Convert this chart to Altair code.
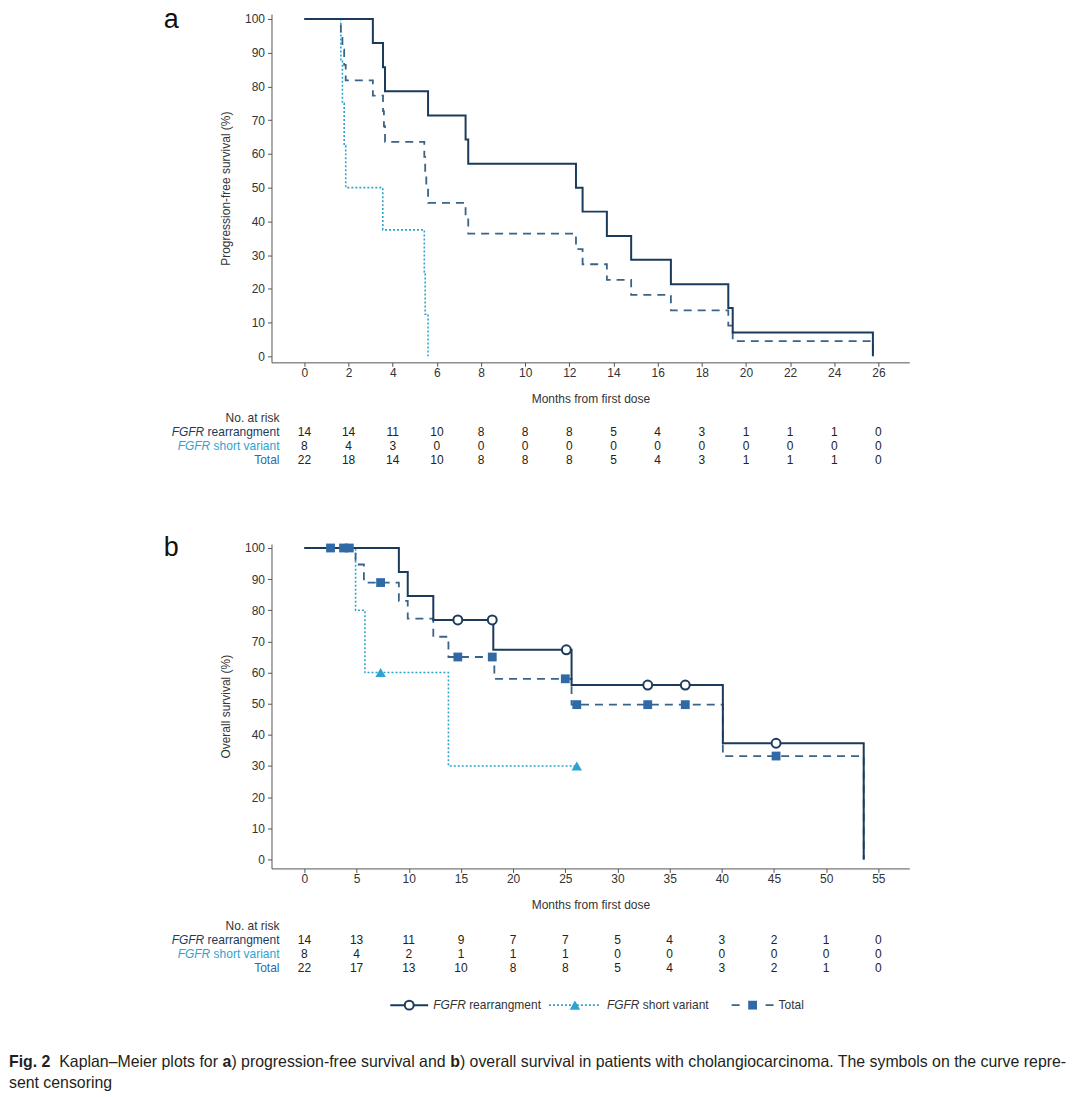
import altair as alt
import pandas as pd

# ---------------- data ----------------
# Panel a: progression-free survival (step curves: event time, survival after event)
PFS_REARR_T = [0, 3.1, 3.56, 3.65, 5.6, 7.3, 7.42, 12.3, 12.6, 13.7, 14.8, 16.6, 19.2, 19.4, 25.75]
PFS_REARR_S = [100, 92.9, 85.7, 78.6, 71.4, 64.3, 57.1, 50.0, 42.9, 35.7, 28.6, 21.4, 14.3, 7.1, 0]
PFS_SHORT_T = [0, 1.65, 1.72, 1.8, 1.87, 3.55, 5.43, 5.47, 5.6]
PFS_SHORT_S = [100, 87.5, 75.0, 62.5, 50.0, 37.5, 25.0, 12.5, 0]
PFS_TOTAL_T = [0, 1.65, 1.72, 1.8, 1.87, 3.1, 3.56, 3.6, 3.65, 5.43, 5.47, 5.52, 5.6,
               7.3, 7.42, 12.3, 12.6, 13.7, 14.8, 16.6, 19.2, 19.4, 25.75]
PFS_TOTAL_S = [100, 95.5, 90.9, 86.4, 81.8, 77.3, 72.7, 68.2, 63.6, 59.1, 54.5, 50.0, 45.5,
               40.9, 36.4, 31.8, 27.3, 22.7, 18.2, 13.6, 9.1, 4.5, 0]

PFS_TICKS = [0, 2, 4, 6, 8, 10, 12, 14, 16, 18, 20, 22, 24, 26]
PFS_RISK_REARR = [14, 14, 11, 10, 8, 8, 8, 5, 4, 3, 1, 1, 1, 0]
PFS_RISK_SHORT = [8, 4, 3, 0, 0, 0, 0, 0, 0, 0, 0, 0, 0, 0]
PFS_RISK_TOTAL = [22, 18, 14, 10, 8, 8, 8, 5, 4, 3, 1, 1, 1, 0]

# Panel b: overall survival
OS_REARR_T = [0, 9.05, 9.9, 12.35, 18.1, 25.6, 40.1, 53.6]
OS_REARR_S = [100, 92.3, 84.6, 76.9, 67.3, 56.0, 37.3, 0]
OS_SHORT_T = [0, 4.9, 5.8, 13.8, 26.1]
OS_SHORT_S = [100, 80.0, 60.0, 30.0, 30.0]
OS_TOTAL_T = [0, 4.9, 5.7, 9.05, 9.9, 12.35, 13.8, 18.2, 25.6, 40.1, 53.6]
OS_TOTAL_S = [100, 94.7, 88.9, 83.0, 77.3, 71.5, 65.0, 58.0, 49.7, 33.2, 0]

# censoring marks
OS_REARR_CENS_T = [14.7, 18.0, 25.1, 32.9, 36.5, 45.2]
OS_REARR_CENS_S = [76.9, 76.9, 67.3, 56.0, 56.0, 37.3]
OS_SHORT_CENS_T = [7.3, 26.1]
OS_SHORT_CENS_S = [60.0, 30.0]
OS_TOTAL_CENS_T = [2.5, 3.75, 4.3, 7.3, 14.7, 18.0, 25.0, 26.1, 32.9, 36.5, 45.2]
OS_TOTAL_CENS_S = [100, 100, 100, 88.9, 65.0, 65.0, 58.0, 49.7, 49.7, 49.7, 33.2]

OS_TICKS = [0, 5, 10, 15, 20, 25, 30, 35, 40, 45, 50, 55]
OS_RISK_REARR = [14, 13, 11, 9, 7, 7, 5, 4, 3, 2, 1, 0]
OS_RISK_SHORT = [8, 4, 2, 1, 1, 1, 0, 0, 0, 0, 0, 0]
OS_RISK_TOTAL = [22, 17, 13, 10, 8, 8, 5, 4, 3, 2, 1, 0]

Y_TICKS = [0, 10, 20, 30, 40, 50, 60, 70, 80, 90, 100]

# ---------------- styling ----------------
NAVY = "#1b3a5c"
CYAN = "#2ea3cf"
TOTAL_LINE = "#3a6388"
TOTAL_MARK = "#2f6aa6"
TXT = "#333333"
FONT = "Liberation Sans"
W = 639
ONE = pd.DataFrame({"k": [0]})

ARIAL = {' ': 278, '!': 278, '(': 333, ')': 333, '-': 333, '.': 278, ',': 278, '%': 889, '–': 556,
         'A': 667, 'B': 667, 'C': 722, 'D': 722, 'E': 667, 'F': 611, 'G': 778, 'H': 722, 'I': 278,
         'J': 500, 'K': 667, 'L': 556, 'M': 833, 'N': 722, 'O': 778, 'P': 667, 'Q': 778, 'R': 722,
         'S': 667, 'T': 611, 'U': 722, 'V': 667, 'W': 944, 'X': 667, 'Y': 667, 'Z': 611,
         'a': 556, 'b': 556, 'c': 500, 'd': 556, 'e': 556, 'f': 278, 'g': 556, 'h': 556, 'i': 222,
         'j': 222, 'k': 500, 'l': 222, 'm': 833, 'n': 556, 'o': 556, 'p': 556, 'q': 556, 'r': 333,
         's': 500, 't': 278, 'u': 556, 'v': 500, 'w': 722, 'x': 500, 'y': 500, 'z': 500}
ARIAL_BOLD = {'F': 611, 'i': 278, 'g': 611, '.': 278, ' ': 278, '2': 556, 'a': 556, 'b': 611}


def tw(s, size, bold=False):
    table = ARIAL_BOLD if bold else ARIAL
    return sum(table.get(c, 556) for c in s) / 1000.0 * size


def txt(text, x, y, size=12, color=TXT, align="left", baseline="middle", style=None, weight=None):
    # leading blanks are trimmed by the renderer: shift instead
    if align == "left":
        stripped = text.lstrip(" ")
        x = x + tw(" " * (len(text) - len(stripped)), size, bool(weight))
        text = stripped
    props = dict(text=text, fontSize=size, color=color, align=align, baseline=baseline, font=FONT)
    if style:
        props["fontStyle"] = style
    if weight:
        props["fontWeight"] = weight
    return alt.Chart(ONE).mark_text(**props).encode(x=alt.value(x), y=alt.value(y))


def anchor(x, y):
    return alt.Chart(ONE).mark_rule(color="white", strokeWidth=0.5).encode(
        x=alt.value(x), x2=alt.value(x), y=alt.value(y), y2=alt.value(y + 0.5))


def encs(xdomain, ydomain, xticks, ytitle):
    axis_common = dict(domainColor="#555555", tickColor="#555555", labelColor=TXT, labelFont=FONT,
                       labelFontSize=12, titleFont=FONT, titleFontSize=12, titleFontWeight="normal",
                       titleColor=TXT, grid=False, tickSize=4)
    x = alt.X("t:Q", scale=alt.Scale(domain=xdomain, nice=False, zero=False),
              axis=alt.Axis(values=xticks, title="Months from first dose", labelPadding=1,
                            titlePadding=15, labelFlush=False, **axis_common))
    y = alt.Y("s:Q", scale=alt.Scale(domain=ydomain, nice=False, zero=False),
              axis=alt.Axis(values=Y_TICKS, title=ytitle, labelPadding=3, titlePadding=12,
                            labelFlush=False, **axis_common))
    return x, y


def curve(t, s, x, y, color, width, dash=None):
    props = dict(interpolate="step-after", color=color, strokeWidth=width)
    if dash:
        props["strokeDash"] = dash
    return alt.Chart(pd.DataFrame({"t": t, "s": s})).mark_line(**props).encode(x=x, y=y)


def risk_rows(ticks, rows, x, y0):
    layers = []
    for i, vals in enumerate(rows):
        df = pd.DataFrame({"t": ticks, "n": vals})
        layers.append(alt.Chart(df).mark_text(font=FONT, fontSize=12, color="#222222",
                                              align="center", baseline="middle")
                      .encode(x=x, y=alt.value(y0 + 14 * (i + 1)), text="n:Q"))
    # row labels
    layers.append(txt("No. at risk", 8, y0, align="right"))
    rest1 = " rearrangment"
    layers.append(txt(rest1, 8, y0 + 14, align="right", color=NAVY))
    layers.append(txt("FGFR", 8 - tw(rest1, 12), y0 + 14, align="right", color=NAVY, style="italic"))
    rest2 = " short variant"
    layers.append(txt(rest2, 8, y0 + 28, align="right", color=CYAN))
    layers.append(txt("FGFR", 8 - tw(rest2, 12), y0 + 28, align="right", color=CYAN, style="italic"))
    layers.append(txt("Total", 8, y0 + 42, align="right", color=TOTAL_MARK))
    return layers


# ---------------- panel a ----------------
HA = 349
xa, ya = encs([-1.492, 27.40], [-1.775, 101.48], PFS_TICKS, "Progression-free survival (%)")
panel_a_layers = [
    anchor(-271, -12),
    curve(PFS_SHORT_T, PFS_SHORT_S, xa, ya, CYAN, 1.6, [2, 2]),
    curve(PFS_TOTAL_T, PFS_TOTAL_S, xa, ya, TOTAL_LINE, 1.8, [8, 6]),
    curve(PFS_REARR_T, PFS_REARR_S, xa, ya, NAVY, 2.0),
    txt("a", -108, 14, size=27, color="#111111", baseline="alphabetic"),
] + risk_rows(PFS_TICKS, [PFS_RISK_REARR, PFS_RISK_SHORT, PFS_RISK_TOTAL], xa, 405)
panel_a = alt.layer(*panel_a_layers).properties(width=W, height=HA)

# ---------------- panel b ----------------
HB = 325
xb, yb = encs([-3.157, 57.97], [-2.885, 101.28], OS_TICKS, "Overall survival (%)")


def marks(t, s, shape, size, fill, stroke, sw):
    return alt.Chart(pd.DataFrame({"t": t, "s": s})).mark_point(
        shape=shape, size=size, filled=True, fill=fill, stroke=stroke, strokeWidth=sw, opacity=1
    ).encode(x=xb, y=yb)


LY = 462
legend = [
    alt.Chart(ONE).mark_rule(color=NAVY, strokeWidth=2).encode(
        x=alt.value(119), x2=alt.value(157), y=alt.value(LY)),
    alt.Chart(ONE).mark_point(shape="circle", size=80, filled=True, fill="white", stroke=NAVY,
                              strokeWidth=2, opacity=1).encode(x=alt.value(138), y=alt.value(LY)),
    txt("FGFR", 162, LY, style="italic"),
    txt(" rearrangment", 162 + tw("FGFR", 12), LY),
    alt.Chart(ONE).mark_rule(color=CYAN, strokeWidth=1.6, strokeDash=[2, 2]).encode(
        x=alt.value(278), x2=alt.value(329), y=alt.value(LY)),
    alt.Chart(ONE).mark_point(shape="triangle-up", size=110, filled=True, color=CYAN,
                              opacity=1).encode(x=alt.value(304), y=alt.value(LY)),
    txt("FGFR", 336, LY, style="italic"),
    txt(" short variant", 336 + tw("FGFR", 12), LY),
    alt.Chart(ONE).mark_rule(color=TOTAL_LINE, strokeWidth=1.8, strokeDash=[8, 26]).encode(
        x=alt.value(461), x2=alt.value(503), y=alt.value(LY)),
    alt.Chart(ONE).mark_point(shape="square", size=78, filled=True, color=TOTAL_MARK,
                              opacity=1).encode(x=alt.value(482), y=alt.value(LY)),
    txt("Total", 508, LY),
]

# caption
CAP_SEGS = [("Fig. 2", True), ("  Kaplan–Meier plots for ", False), ("a", True),
            (") progression-free survival and ", False), ("b", True),
            (") overall survival in patients with cholangiocarcinoma. The symbols on the curve repre-", False)]
cap_em = sum(tw(s, 1, b) for s, b in CAP_SEGS)
CAP_FS = (1068 - 8) / cap_em
caption = []
cx = -263
for s, b in CAP_SEGS:
    caption.append(txt(s, cx, 519, size=CAP_FS, color="#231f20", weight="bold" if b else None))
    cx += tw(s, CAP_FS, b)
caption.append(txt("sent censoring", -263, 540, size=CAP_FS, color="#231f20"))

panel_b_layers = [
    anchor(809, 553),
    curve(OS_SHORT_T, OS_SHORT_S, xb, yb, CYAN, 1.6, [2, 2]),
    curve(OS_TOTAL_T, OS_TOTAL_S, xb, yb, TOTAL_LINE, 1.8, [8, 6]),
    curve(OS_REARR_T, OS_REARR_S, xb, yb, NAVY, 2.0),
    marks(OS_TOTAL_CENS_T, OS_TOTAL_CENS_S, "square", 78, TOTAL_MARK, TOTAL_MARK, 0),
    marks(OS_SHORT_CENS_T, OS_SHORT_CENS_S, "triangle-up", 110, CYAN, CYAN, 0),
    marks(OS_REARR_CENS_T, OS_REARR_CENS_S, "circle", 80, "white", NAVY, 2),
    txt("b", -108, 12, size=27, color="#111111", baseline="alphabetic"),
] + risk_rows(OS_TICKS, [OS_RISK_REARR, OS_RISK_SHORT, OS_RISK_TOTAL], xb, 383) + legend + caption
panel_b = alt.layer(*panel_b_layers).properties(width=W, height=HB)

chart = alt.vconcat(panel_a, panel_b, spacing=182, bounds="flush").properties(
    padding=0, background="white"
).configure_view(stroke=None)

chart.save("out.html", embed_options={"renderer": "svg", "actions": False})
